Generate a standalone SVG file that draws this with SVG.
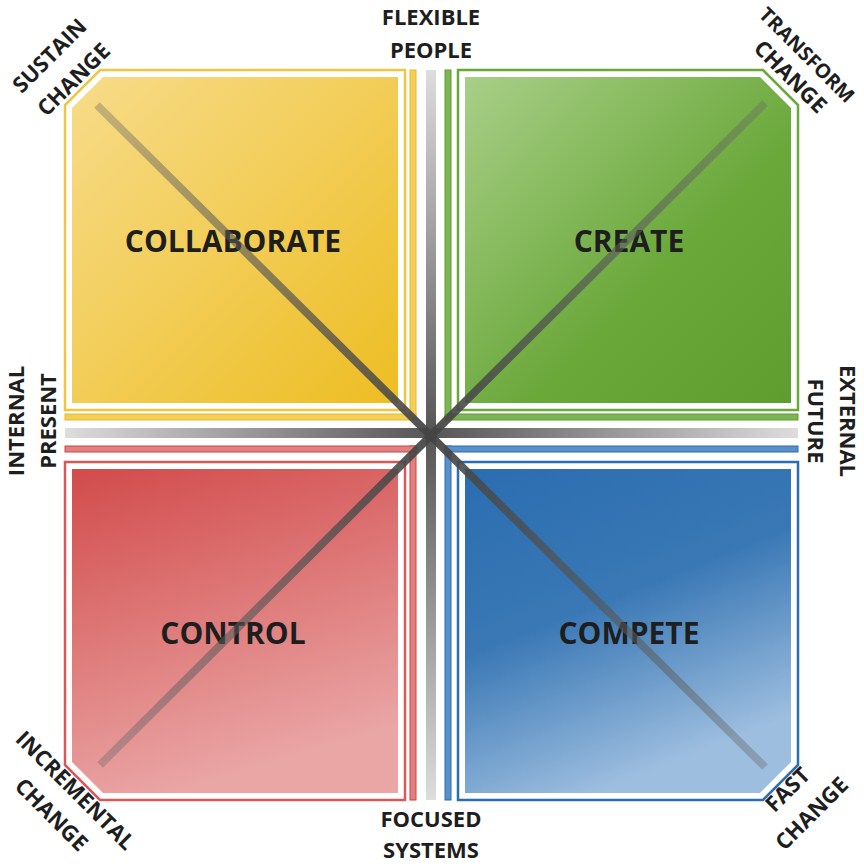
<svg xmlns="http://www.w3.org/2000/svg" width="864" height="866" viewBox="0 0 864 866">
<style>
.q{font-family:"Open Sans","Liberation Sans",sans-serif;font-weight:bold;font-size:30px;fill:#1e1e1e;text-anchor:middle}
.l{font-family:"Open Sans","Liberation Sans",sans-serif;font-weight:bold;font-size:22px;fill:#1e1e1e;text-anchor:middle}
.frame{fill:#fff;stroke-width:2.5}
</style>
<defs>
<linearGradient id="gy" x1="0" y1="0" x2="1" y2="1"><stop offset="0" stop-color="#f7dc8a"/><stop offset="1" stop-color="#edbd22"/></linearGradient>
<linearGradient id="gg" x1="0" y1="0" x2="1" y2="1"><stop offset="0" stop-color="#a9cf88"/><stop offset="0.6" stop-color="#6aa83a"/><stop offset="1" stop-color="#5e9d2e"/></linearGradient>
<linearGradient id="gr" x1="0" y1="0" x2="0.3" y2="1"><stop offset="0" stop-color="#d24b4b"/><stop offset="1" stop-color="#eaa5a5"/></linearGradient>
<linearGradient id="gb" x1="0" y1="0" x2="0.4" y2="1"><stop offset="0" stop-color="#2a6db0"/><stop offset="0.5" stop-color="#3a78b5"/><stop offset="1" stop-color="#9dbedf"/></linearGradient>
<linearGradient id="gv" x1="0" y1="0" x2="0" y2="1"><stop offset="0" stop-color="#ddd"/><stop offset="0.5" stop-color="#555"/><stop offset="1" stop-color="#ddd"/></linearGradient>
<linearGradient id="gh" x1="0" y1="0" x2="1" y2="0"><stop offset="0" stop-color="#ddd"/><stop offset="0.5" stop-color="#555"/><stop offset="1" stop-color="#ddd"/></linearGradient>
<linearGradient id="gd1" x1="0" y1="0" x2="1" y2="1"><stop offset="0" stop-color="#666" stop-opacity="0.35"/><stop offset="0.5" stop-color="#444" stop-opacity="0.95"/><stop offset="1" stop-color="#666" stop-opacity="0.35"/></linearGradient>
<linearGradient id="gd2" x1="1" y1="0" x2="0" y2="1"><stop offset="0" stop-color="#666" stop-opacity="0.35"/><stop offset="0.5" stop-color="#444" stop-opacity="0.95"/><stop offset="1" stop-color="#666" stop-opacity="0.35"/></linearGradient>
</defs>
<rect width="864" height="866" fill="#fff"/>
<g id="stripes">
<rect x="410" y="70" width="6" height="350" fill="#f3cf5a" stroke="#e8b92a" stroke-width="1"/>
<rect x="65" y="414" width="351" height="6" fill="#f3cf5a" stroke="#e8b92a" stroke-width="1"/>
<rect x="445" y="70" width="6" height="350" fill="#7db455" stroke="#5e9d2e" stroke-width="1"/>
<rect x="445" y="414" width="353" height="6" fill="#7db455" stroke="#5e9d2e" stroke-width="1"/>
<rect x="410" y="446" width="6" height="354" fill="#e08080" stroke="#cc4444" stroke-width="1"/>
<rect x="65" y="446" width="351" height="6" fill="#e08080" stroke="#cc4444" stroke-width="1"/>
<rect x="445" y="446" width="6" height="354" fill="#5a8fc8" stroke="#2a6db0" stroke-width="1"/>
<rect x="445" y="446" width="353" height="6" fill="#5a8fc8" stroke="#2a6db0" stroke-width="1"/>
</g>
<g id="collaborate">
<path class="frame" stroke="#f0c540" d="M100,70 H405 V410 H65 V105 Z"/>
<path fill="url(#gy)" d="M103,77 H398 V403 H72 V108 Z"/>
<text class="q" x="233" y="252">COLLABORATE</text>
</g>
<g id="create">
<path class="frame" stroke="#6aa83a" d="M458,70 H763 L798,105 V410 H458 Z"/>
<path fill="url(#gg)" d="M465,77 H760 L791,108 V403 H465 Z"/>
<text class="q" x="629" y="252">CREATE</text>
</g>
<g id="control">
<path class="frame" stroke="#d85858" d="M65,462 H405 V800 H100 L65,765 Z"/>
<path fill="url(#gr)" d="M72,469 H398 V793 H103 L72,762 Z"/>
<text class="q" x="233" y="644">CONTROL</text>
</g>
<g id="compete">
<path class="frame" stroke="#2a6db0" d="M458,462 H798 V765 L763,800 H458 Z"/>
<path fill="url(#gb)" d="M465,469 H791 V762 L760,793 H465 Z"/>
<text class="q" x="629" y="644">COMPETE</text>
</g>
<g id="connectors">
<rect x="426" y="70" width="10" height="730" fill="url(#gv)"/>
<rect x="65" y="428" width="733" height="10" fill="url(#gh)"/>
<line x1="97" y1="105" x2="765" y2="767" stroke="url(#gd1)" stroke-width="8"/>
<line x1="765" y1="103" x2="100" y2="765" stroke="url(#gd2)" stroke-width="8"/>
</g>
<g id="labels">
<text class="l" x="431" y="25">FLEXIBLE</text>
<text class="l" x="431" y="58">PEOPLE</text>
<text class="l" x="431" y="827">FOCUSED</text>
<text class="l" x="431" y="858">SYSTEMS</text>
<text class="l" transform="translate(24,421) rotate(-90)">INTERNAL</text>
<text class="l" transform="translate(56,421) rotate(-90)">PRESENT</text>
<text class="l" transform="translate(840,421) rotate(90)">EXTERNAL</text>
<text class="l" transform="translate(808,421) rotate(90)">FUTURE</text>
<text class="l" transform="translate(55,61) rotate(-45)">SUSTAIN</text>
<text class="l" transform="translate(79,85) rotate(-45)">CHANGE</text>
<text class="l" transform="translate(802,60) rotate(45)" style="font-size:20px">TRANSFORM</text>
<text class="l" transform="translate(785,82) rotate(45)">CHANGE</text>
<text class="l" transform="translate(70,796) rotate(45)">INCREMENTAL</text>
<text class="l" transform="translate(46,820) rotate(45)">CHANGE</text>
<text class="l" transform="translate(793,795) rotate(-45)">FAST</text>
<text class="l" transform="translate(817,819) rotate(-45)">CHANGE</text>
</g>
</svg>
